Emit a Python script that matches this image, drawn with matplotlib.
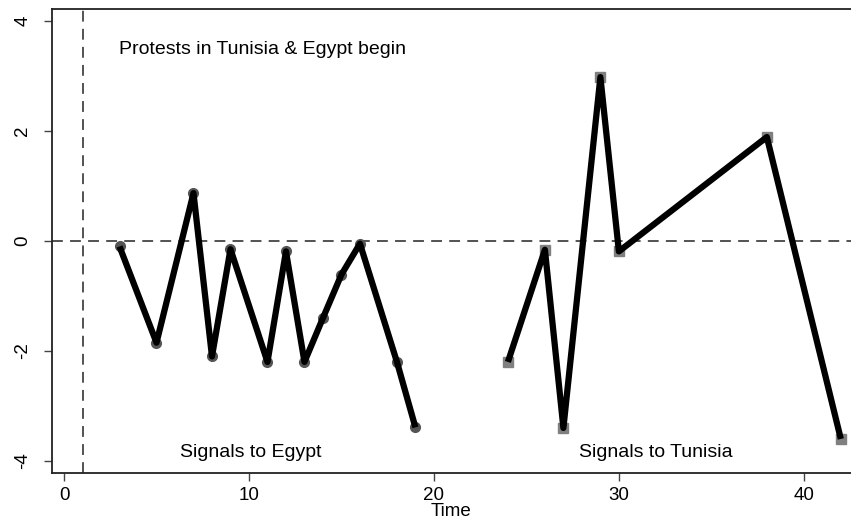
import matplotlib
matplotlib.use("Agg")
import matplotlib.pyplot as plt

plt.rcParams['font.family'] = ['Liberation Sans', 'DejaVu Sans']

egypt_t = [3, 5, 7, 8, 9, 11, 12, 13, 14, 15, 16, 18, 19]
egypt_v = [-0.1, -1.85, 0.87, -2.1, -0.15, -2.2, -0.19, -2.2, -1.4, -0.61, -0.05, -2.2, -3.39]

tunisia_t = [24, 26, 27, 29, 30, 38, 42]
tunisia_v = [-2.2, -0.16, -3.4, 2.98, -0.19, 1.89, -3.6]

x_ticks = [0, 10, 20, 30, 40]
y_ticks = [-4, -2, 0, 2, 4]
event_t = 1

fig = plt.figure(figsize=(8.51, 5.25), dpi=100)
ax = fig.add_axes([0.0611, 0.099, 0.9389, 0.883])

ax.axhline(0, color='#444444', lw=1.3, ls=(0, (6, 4)), zorder=1)
ax.axvline(event_t, color='#444444', lw=1.3, ls=(0, (6, 4)), zorder=1)

ax.plot(egypt_t, egypt_v, ls='none', marker='o', ms=7, color='#555555', zorder=1.5)
ax.plot(egypt_t, egypt_v, color='black', lw=4.5, zorder=2,
        solid_joinstyle='round', solid_capstyle='butt')

ax.plot(tunisia_t, tunisia_v, ls='none', marker='s', ms=6.5, color='#808080', zorder=1.5)
ax.plot(tunisia_t, tunisia_v, color='black', lw=4.5, zorder=2,
        solid_joinstyle='round', solid_capstyle='butt')

ax.text(2.97, 3.48, 'Protests in Tunisia & Egypt begin', fontsize=14, va='center', ha='left')
ax.text(10.1, -3.84, 'Signals to Egypt', fontsize=14, va='center', ha='center')
ax.text(32.0, -3.84, 'Signals to Tunisia', fontsize=14, va='center', ha='center')

ax.set_xlim(-0.65, 42.55)
ax.set_ylim(-4.22, 4.21)
ax.set_xticks(x_ticks)
ax.set_yticks(y_ticks)
ax.set_yticklabels([str(v) for v in y_ticks], rotation=90, va='center')
ax.tick_params(axis='both', direction='out', length=6, width=1, labelsize=13.5, color='#444444')
ax.tick_params(axis='y', pad=9)
ax.tick_params(axis='x', pad=4)
ax.set_xlabel('Time', fontsize=13.5, labelpad=-1)

ax.spines['right'].set_visible(False)
for s in ['left', 'bottom', 'top']:
    ax.spines[s].set_linewidth(1.3)
    ax.spines[s].set_color('#222222')

fig.savefig('out.png', dpi=100)
